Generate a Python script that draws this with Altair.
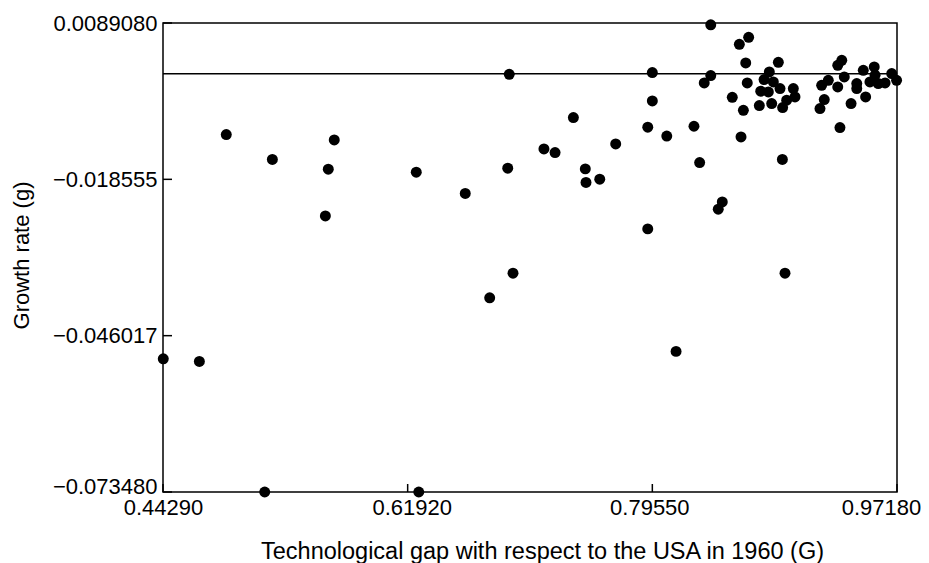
import altair as alt
import pandas as pd

# Technological gap with respect to the USA in 1960 (G)
gap = [0.4885, 0.5217, 0.5663, 0.5620, 0.5599, 0.6254, 0.6607, 0.6913, 0.6924, 0.4431,
       0.4691, 0.5162, 0.6272, 0.6783, 0.6951, 0.8911, 0.8126, 0.8376, 0.7955, 0.7955,
       0.7386, 0.7922, 0.8059, 0.8255, 0.8594, 0.7691, 0.7174, 0.7254, 0.8296, 0.8892,
       0.7472, 0.7477, 0.7576, 0.8459, 0.8430, 0.7922, 0.9307, 0.8649, 0.8582, 0.8628,
       0.8863, 0.8376, 0.8329, 0.8639, 0.8798, 0.8760, 0.8827, 0.8736, 0.8875, 0.8791,
       0.8971, 0.8983, 0.8923, 0.8531, 0.8611, 0.8726, 0.8815, 0.8894, 0.9320, 0.9291,
       0.9338, 0.9223, 0.9175, 0.9291, 0.9428, 0.9475, 0.9554, 0.9560, 0.9680, 0.9523,
       0.9583, 0.9632, 0.9715, 0.9428, 0.9492, 0.9194, 0.9163, 0.9387]

# Growth rate (g)
growth = [-0.01069, -0.01507, -0.01163, -0.01678, -0.02498, -0.01730, -0.02104, -0.01660, -0.00010, -0.05008,
          -0.05054, -0.07348, -0.07348, -0.03937, -0.03504, -0.03504, -0.04878, 0.00860, 0.00020, -0.00479,
          -0.00770, -0.00940, -0.01095, -0.00923, -0.01111, -0.01234, -0.01321, -0.01385, -0.01560, -0.01507,
          -0.01672, -0.01911, -0.01853, -0.02252, -0.02380, -0.02726, -0.00946, 0.00640, 0.00517, 0.00189,
          0.00201, -0.00033, -0.00163, -0.00163, 0.00031, -0.00103, -0.00145, -0.00308, -0.00261, -0.00321,
          -0.00261, -0.00408, -0.00466, -0.00414, -0.00642, -0.00559, -0.00524, -0.00594, 0.00236, 0.00148,
          -0.00057, -0.00115, -0.00203, -0.00233, -0.00173, 0.00060, 0.00118, -0.00027, 0.00003, -0.00145,
          -0.00173, -0.00163, -0.00115, -0.00261, -0.00408, -0.00454, -0.00612, -0.00524]

x_ticks = [0.44290, 0.61920, 0.79550, 0.97180]
x_tick_labels = ["0.44290", "0.61920", "0.79550", "0.97180"]
y_ticks = [-0.073480, -0.046017, -0.018555, 0.0089080]
y_tick_labels = ["\u22120.073480", "\u22120.046017", "\u22120.018555", "0.0089080"]
ref_level = [0.0]

x_title = "Technological gap with respect to the USA in 1960 (G)"
y_title = "Growth rate (g)"

# styling
W, H = 734, 469
FONT = "Liberation Sans"
x_label_shift = [0, 4, -3, -16]  # pixel nudges of the x tick labels, as in the scan
y_label_shift = [-6, 0, 0, 0]    # pixel nudges of the y tick labels, as in the scan


def label_expr(vals, labels):
    parts = [f"abs(datum.value - ({v})) < 1e-7 ? '{l}' : " for v, l in zip(vals, labels)]
    return "".join(parts) + "''"


def shift_expr(vals, shifts):
    parts = [f"abs(datum.value - ({v})) < 1e-7 ? {s} : " for v, s in zip(vals, shifts)]
    return "".join(parts) + "0"


df = pd.DataFrame({"G": gap, "g": growth})
df_xt = pd.DataFrame({"G": x_ticks})
df_yt = pd.DataFrame({"g": y_ticks})
df_ref = pd.DataFrame({"g": ref_level})

xscale = alt.Scale(domain=[x_ticks[0], x_ticks[-1]], nice=False, zero=False)
yscale = alt.Scale(domain=[y_ticks[0], y_ticks[-1]], nice=False, zero=False)

x_axis = alt.Axis(values=x_ticks, labelExpr=label_expr(x_ticks, x_tick_labels),
                  title=x_title, ticks=False, domain=False, grid=False,
                  labelFontSize=22, labelPadding=5, labelFlush=False, labelOverlap=False,
                  labelOffset=alt.ExprRef(shift_expr(x_ticks, x_label_shift)),
                  labelColor="black", labelFont=FONT,
                  titleFontSize=23.5, titleFontWeight="normal", titleColor="black", titleFont=FONT,
                  titleX=379, titleY=59, titleAlign="center", titleBaseline="middle")
y_axis = alt.Axis(values=y_ticks, labelExpr=label_expr(y_ticks, y_tick_labels),
                  title=y_title, ticks=False, domain=False, grid=False,
                  labelFontSize=22, labelPadding=6, labelFlush=False, labelOverlap=False,
                  labelOffset=alt.ExprRef(shift_expr(y_ticks, y_label_shift)),
                  labelColor="black", labelFont=FONT, labelBaseline="middle",
                  titleFontSize=22, titleFontWeight="normal", titleColor="black", titleFont=FONT,
                  titleAngle=270, titleX=-142, titleY=232, titleAlign="center", titleBaseline="middle")

ref = alt.Chart(df_ref).mark_rule(color="black", strokeWidth=1.5).encode(
    y=alt.Y("g:Q", scale=yscale, axis=y_axis))

xt = alt.Chart(df_xt).mark_rule(color="black", strokeWidth=1.5).encode(
    x=alt.X("G:Q", scale=xscale, axis=x_axis),
    y=alt.value(H), y2=alt.value(H - 8))

yt = alt.Chart(df_yt).mark_rule(color="black", strokeWidth=1.5).encode(
    y=alt.Y("g:Q", scale=yscale, axis=y_axis),
    x=alt.value(0), x2=alt.value(9))

pts = alt.Chart(df).mark_circle(size=120, color="black", opacity=1).encode(
    x=alt.X("G:Q", scale=xscale, axis=x_axis),
    y=alt.Y("g:Q", scale=yscale, axis=y_axis))

chart = alt.layer(ref, xt, yt, pts).properties(
    width=W, height=H,
    padding={"left": 155, "top": 15, "right": 24, "bottom": 72},
    autosize=alt.AutoSizeParams(type="none"),
    background="white",
).configure_view(stroke="black", strokeWidth=1.5)

chart.save("out.html", embed_options={"renderer": "svg", "actions": False})
